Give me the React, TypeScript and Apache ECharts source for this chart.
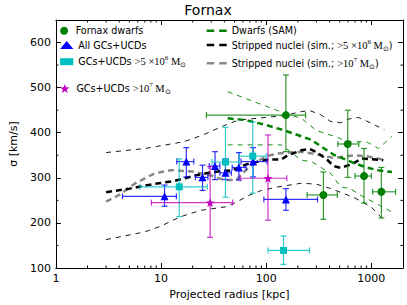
import React, { useEffect, useRef } from 'react';
import * as echarts from 'echarts';

const FONT = 'DejaVu Sans';
const SERIF = 'Liberation Serif';
const X_MIN = 1, X_MAX = 2000, Y_MIN = 100, Y_MAX = 650;

// Fornax dwarfs (observed)
const dwarfR = [154, 596, 852, 1245, 350];
const dwarfSigma = [439, 375, 304, 269, 262];
const dwarfRLo = [27, 480, 700, 1030, 245];
const dwarfRHi = [237, 760, 1000, 1700, 475];
const dwarfSigmaLo = [358, 301, 244, 211, 208];
const dwarfSigmaHi = [528, 450, 365, 323, 313];

// All GCs+UCDs
const allR = [10.8, 17.4, 24.8, 32.6, 41, 55, 75, 154];
const allSigma = [259, 336, 301, 326, 311, 323, 336, 252];
const allRLo = [4.3, 14.1, 21.2, 28.7, 36.3, 47.5, 57.6, 95];
const allRHi = [14.0, 20.5, 27.9, 36.3, 46.6, 64.5, 102, 308];
const allSigmaLo = [237, 302, 272, 296, 296, 295, 302, 228];
const allSigmaHi = [284, 367, 328, 358, 342, 356, 367, 276];

// GCs+UCDs > 5e6 Msun
const m5R = [14.9, 41, 74.5, 146];
const m5Sigma = [280, 335, 348, 139];
const m5RLo = [6.3, 30.5, 55.6, 104];
const m5RHi = [27.5, 55, 100, 258];
const m5SigmaLo = [214, 257, 266, 108];
const m5SigmaHi = [342, 412, 424, 171];

// GCs+UCDs > 1e7 Msun
const m7R = [29.3, 104];
const m7Sigma = [245, 299];
const m7RLo = [8.1, 56.5];
const m7RHi = [48, 157];
const m7SigmaLo = [168, 206];
const m7SigmaHi = [325, 395];

// Dwarfs (SAM): median and bounds
const samMedR = [43, 64, 100, 150, 216, 270, 330, 440, 680, 900, 1200, 1570];
const samMedS = [432, 428, 417, 405, 392, 384, 370, 351, 333, 323, 316, 313];
const samHiR = [43, 151, 216, 300, 380, 475, 590, 900, 1170, 1570];
const samHiS = [491, 443, 432, 405, 397, 390, 380, 380, 365, 392];
const samLoR = [43, 140, 216, 270, 410, 510, 630, 780, 1200, 1570];
const samLoS = [373, 373, 339, 336, 310, 280, 276, 262, 239, 224];

// Stripped nuclei (sim., > 5e6): median and bounds
const nucMedR = [3.0, 5, 8.4, 13.4, 22, 31.5, 48, 65, 100, 140, 160, 216, 260, 300, 380, 440, 510, 650, 810, 1300];
const nucMedS = [268, 276, 286, 293, 306, 313, 317, 330, 340, 341, 350, 361, 364, 357, 340, 326, 322, 330, 343, 339];
const nucHiR = [3.0, 7, 16.5, 25, 39, 54, 100, 150, 190, 216, 260, 330, 410, 510, 600, 750, 900, 1100, 1330];
const nucHiS = [356, 365, 380, 395, 415, 428, 434, 438, 444, 447, 449, 440, 425, 422, 430, 434, 426, 416, 407];
const nucLoR = [3.0, 7, 10, 15, 24, 42, 56, 70, 90, 130, 216, 300, 400, 550, 700, 1000, 1330];
const nucLoS = [163, 180, 193, 213, 228, 236, 250, 262, 272, 280, 288, 286, 277, 265, 255, 235, 205];

// Stripped nuclei (sim., > 1e7): median
const nuc7R = [3.0, 4, 5.7, 8.7, 12.4, 20, 30, 40, 52, 64, 80, 100, 130, 160, 216, 300, 440, 550, 700, 900, 1300];
const nuc7S = [247, 262, 288, 310, 317, 314, 305, 295, 295, 317, 335, 348, 354, 356, 358, 352, 344, 347, 350, 348, 340];

// axis ticks
const xMajorLabels = [1, 10, 100, 1000];
const xMinor = [2, 3, 4, 5, 6, 7, 8, 9, 20, 30, 40, 50, 60, 70, 80, 90, 200, 300, 400, 500, 600, 700, 800, 900];
const yMinor = [150, 250, 350, 450, 550];

const zip = (xs: number[], ys: number[]) => xs.map((x, i) => [x, ys[i]]);
const bars = (xs: number[], ys: number[], xl: number[], xh: number[], yl: number[], yh: number[]) =>
  xs.map((x, i) => [x, ys[i], xl[i], xh[i], yl[i], yh[i]]);

function starPath() {
  const pts: string[] = [];
  for (let i = 0; i < 10; i++) {
    const a = -Math.PI / 2 + (i * Math.PI) / 5;
    const r = i % 2 === 0 ? 1 : 0.42;
    pts.push(`${(r * Math.cos(a)).toFixed(3)} ${(r * Math.sin(a)).toFixed(3)}`);
  }
  return 'path://M' + pts.join(' L') + ' Z';
}

// legend icon: two dashes, like matplotlib's "--" handle
const DASH_ICON = 'path://M0 0 H7.5 V2.5 H0 Z M12.5 0 H20 V2.5 H12.5 Z';

function errRender(color: string) {
  return (params: any, api: any) => {
    const x = api.value(0), y = api.value(1);
    const l = api.coord([api.value(2), y]);
    const r = api.coord([api.value(3), y]);
    const b = api.coord([x, api.value(4)]);
    const t = api.coord([x, api.value(5)]);
    const c = 3;
    const style = { stroke: color, lineWidth: 1.2, opacity: 0.8 };
    const mk = (x1: number, y1: number, x2: number, y2: number) => ({ type: 'line', shape: { x1, y1, x2, y2 }, style });
    return {
      type: 'group',
      children: [
        mk(l[0], l[1], r[0], r[1]),
        mk(l[0], l[1] - c, l[0], l[1] + c),
        mk(r[0], r[1] - c, r[0], r[1] + c),
        mk(b[0], b[1], t[0], t[1]),
        mk(b[0] - c, b[1], b[0] + c, b[1]),
        mk(t[0] - c, t[1], t[0] + c, t[1]),
      ],
    };
  };
}

const GREEN = '#008000', BLUE = '#0000ff', CYAN = '#00bfbf', MAGENTA = '#bf00bf', GRAY = '#888888';

const names: Record<string, string> = {
  'Fornax dwarfs': '{a|Fornax dwarfs}',
  'All GCs+UCDs': '{a|All GCs+UCDs}',
  'GCs+UCDs >5e6': '{a|GCs+UCDs }{m|>5 ×10}{s|6}{m| M}{o|⊙}',
  'GCs+UCDs >1e7': '{a|GCs+UCDs }{m|>10}{s|7}{m| M}{o|⊙}',
  'Dwarfs (SAM)': '{a|Dwarfs (SAM)}',
  'Stripped nuclei 5e6': '{a|Stripped nuclei (sim.; }{m|>5 ×10}{s|6}{m| M}{o|⊙}{a|)}',
  'Stripped nuclei 1e7': '{a|Stripped nuclei (sim.; }{m|>10}{s|7}{m| M}{o|⊙}{a|)}',
};

const legendText = {
  fontFamily: FONT,
  fontSize: 9.6,
  color: '#000',
  lineHeight: 14,
  rich: {
    a: { fontFamily: FONT, fontSize: 9.6, color: '#000', lineHeight: 14 },
    m: { fontFamily: SERIF, fontSize: 10.5, color: '#000', lineHeight: 14 },
    s: { fontFamily: SERIF, fontSize: 7, color: '#000', lineHeight: 8, verticalAlign: 'top' },
    o: { fontFamily: SERIF, fontSize: 7, color: '#000', lineHeight: 8, verticalAlign: 'bottom' },
  },
};

function mkLegend(name: string, left: number, centerY: number, itemWidth: number, itemHeight: number, lineColor?: string) {
  const l: any = {
    data: lineColor ? [{ name, icon: DASH_ICON }] : [name],
    left,
    top: centerY - 7,
    padding: 0,
    orient: 'horizontal',
    selectedMode: false,
    itemWidth,
    itemHeight,
    textStyle: legendText,
    formatter: (n: string) => names[n] || n,
  };
  if (lineColor) l.itemStyle = { color: lineColor, borderWidth: 0 };
  return l;
}

const axisFont = { fontFamily: FONT, fontSize: 11, color: '#000' };

function buildOption(): any {
  const thickDash = [6, 4];
  const thinDash = [5, 5];
  const lineSeries = (name: string, xs: number[], ys: number[], color: string, width: number, dash: number[]) => ({
    type: 'line',
    name,
    data: zip(xs, ys),
    symbol: 'none',
    silent: true,
    z: 2,
    lineStyle: { color, width, type: dash },
    itemStyle: { color },
  });
  const errSeries = (id: string, color: string, data: number[][]) => ({
    type: 'custom',
    name: id,
    renderItem: errRender(color),
    data,
    encode: { x: [0, 2, 3], y: [1, 4, 5] },
    silent: true,
    clip: false,
    z: 3,
  });
  const scatter = (name: string, xs: number[], ys: number[], color: string, symbol: string, size: number) => ({
    type: 'scatter',
    name,
    data: zip(xs, ys),
    symbol,
    symbolSize: size,
    itemStyle: { color, opacity: 1 },
    silent: true,
    z: 4,
  });

  return {
    animation: false,
    backgroundColor: '#fff',
    grid: { left: 49, right: 4, top: 20, bottom: 37, containLabel: false },
    graphic: [
      {
        type: 'text',
        x: 208,
        y: 10,
        style: { text: 'Fornax', fontFamily: FONT, fontSize: 14, fill: '#000', textAlign: 'center', textVerticalAlign: 'middle' },
      },
    ],
    legend: [
      mkLegend('Fornax dwarfs', 60.1, 30.7, 13.2, 8),
      mkLegend('All GCs+UCDs', 60.1, 45, 13.2, 8),
      mkLegend('GCs+UCDs >5e6', 60.1, 61.7, 13.2, 7),
      mkLegend('GCs+UCDs >1e7', 60.1, 88.5, 13.2, 9),
      mkLegend('Dwarfs (SAM)', 206.7, 30.7, 20, 14, GREEN),
      mkLegend('Stripped nuclei 5e6', 206.7, 45, 20, 14, '#000'),
      mkLegend('Stripped nuclei 1e7', 206.7, 63.3, 20, 14, GRAY),
    ],
    xAxis: [
      {
        type: 'log',
        logBase: 10,
        min: X_MIN,
        max: X_MAX,
        position: 'bottom',
        axisLine: { onZero: false, lineStyle: { color: '#000', width: 1 } },
        axisTick: { inside: true, length: 5, lineStyle: { color: '#000' } },
        axisLabel: {
          ...axisFont,
          margin: 5,
          showMaxLabel: false,
          formatter: (v: number) => {
            const r = Math.round(v);
            return xMajorLabels.includes(r) ? String(r) : '';
          },
        },
        splitLine: { show: false },
        name: 'Projected radius [kpc]',
        nameLocation: 'middle',
        nameGap: 20,
        nameTextStyle: axisFont,
      },
      {
        type: 'log',
        logBase: 10,
        min: X_MIN,
        max: X_MAX,
        position: 'top',
        axisLine: { onZero: false, lineStyle: { color: '#000', width: 1 } },
        axisTick: { inside: true, length: 5, lineStyle: { color: '#000' } },
        axisLabel: { show: false },
        splitLine: { show: false },
      },
    ],
    yAxis: [
      {
        type: 'value',
        min: Y_MIN,
        max: Y_MAX,
        interval: 100,
        position: 'left',
        axisLine: { onZero: false, lineStyle: { color: '#000', width: 1 } },
        axisTick: { inside: true, length: 5, lineStyle: { color: '#000' } },
        axisLabel: { ...axisFont, margin: 5, showMaxLabel: false, formatter: (v: number) => (v <= 600 ? String(v) : '') },
        splitLine: { show: false },
        name: 'σ [km/s]',
        nameLocation: 'middle',
        nameGap: 30,
        nameTextStyle: axisFont,
      },
      {
        type: 'value',
        min: Y_MIN,
        max: Y_MAX,
        interval: 100,
        position: 'right',
        axisLine: { onZero: false, lineStyle: { color: '#000', width: 1 } },
        axisTick: { inside: true, length: 5, lineStyle: { color: '#000' } },
        axisLabel: { show: false },
        splitLine: { show: false },
      },
    ],
    series: [
      // minor ticks (x)
      {
        type: 'custom',
        name: 'xminor',
        silent: true,
        clip: false,
        z: 1,
        data: xMinor.map((v) => [v, Y_MIN]),
        encode: { x: 0, y: 1 },
        renderItem: (p: any, api: any) => {
          const v = api.value(0);
          const b = api.coord([v, Y_MIN]);
          const t = api.coord([v, Y_MAX]);
          const st = { stroke: '#000', lineWidth: 1 };
          return {
            type: 'group',
            children: [
              { type: 'line', shape: { x1: b[0], y1: b[1], x2: b[0], y2: b[1] - 2.5 }, style: st },
              { type: 'line', shape: { x1: t[0], y1: t[1], x2: t[0], y2: t[1] + 2.5 }, style: st },
            ],
          };
        },
      },
      // minor ticks (y)
      {
        type: 'custom',
        name: 'yminor',
        silent: true,
        clip: false,
        z: 1,
        data: yMinor.map((v) => [X_MIN, v]),
        encode: { x: 0, y: 1 },
        renderItem: (p: any, api: any) => {
          const v = api.value(1);
          const l = api.coord([X_MIN, v]);
          const r = api.coord([X_MAX, v]);
          const st = { stroke: '#000', lineWidth: 1 };
          return {
            type: 'group',
            children: [
              { type: 'line', shape: { x1: l[0], y1: l[1], x2: l[0] + 2.5, y2: l[1] }, style: st },
              { type: 'line', shape: { x1: r[0], y1: r[1], x2: r[0] - 2.5, y2: r[1] }, style: st },
            ],
          };
        },
      },
      lineSeries('nuc_hi', nucHiR, nucHiS, '#000', 0.9, thinDash),
      lineSeries('nuc_lo', nucLoR, nucLoS, '#000', 0.9, thinDash),
      lineSeries('sam_hi', samHiR, samHiS, GREEN, 0.9, thinDash),
      lineSeries('sam_lo', samLoR, samLoS, GREEN, 0.9, thinDash),
      lineSeries('Stripped nuclei 1e7', nuc7R, nuc7S, GRAY, 2.5, thickDash),
      lineSeries('Stripped nuclei 5e6', nucMedR, nucMedS, '#000', 2.5, thickDash),
      lineSeries('Dwarfs (SAM)', samMedR, samMedS, GREEN, 2.5, thickDash),
      errSeries('err_dw', GREEN, bars(dwarfR, dwarfSigma, dwarfRLo, dwarfRHi, dwarfSigmaLo, dwarfSigmaHi)),
      errSeries('err_all', BLUE, bars(allR, allSigma, allRLo, allRHi, allSigmaLo, allSigmaHi)),
      errSeries('err_m5', CYAN, bars(m5R, m5Sigma, m5RLo, m5RHi, m5SigmaLo, m5SigmaHi)),
      errSeries('err_m7', MAGENTA, bars(m7R, m7Sigma, m7RLo, m7RHi, m7SigmaLo, m7SigmaHi)),
      scatter('Fornax dwarfs', dwarfR, dwarfSigma, GREEN, 'circle', 8),
      scatter('All GCs+UCDs', allR, allSigma, BLUE, 'triangle', 8),
      scatter('GCs+UCDs >5e6', m5R, m5Sigma, CYAN, 'rect', 7),
      scatter('GCs+UCDs >1e7', m7R, m7Sigma, MAGENTA, starPath(), 9),
    ],
  };
}

export default function App() {
  const ref = useRef<HTMLDivElement>(null);
  useEffect(() => {
    if (!ref.current) return;
    const chart = echarts.init(ref.current, null, { renderer: 'svg' });
    chart.setOption(buildOption());
    return () => chart.dispose();
  }, []);
  return <div ref={ref} style={{ position: 'fixed', left: 0, top: 0, width: 407, height: 305 }} />;
}
